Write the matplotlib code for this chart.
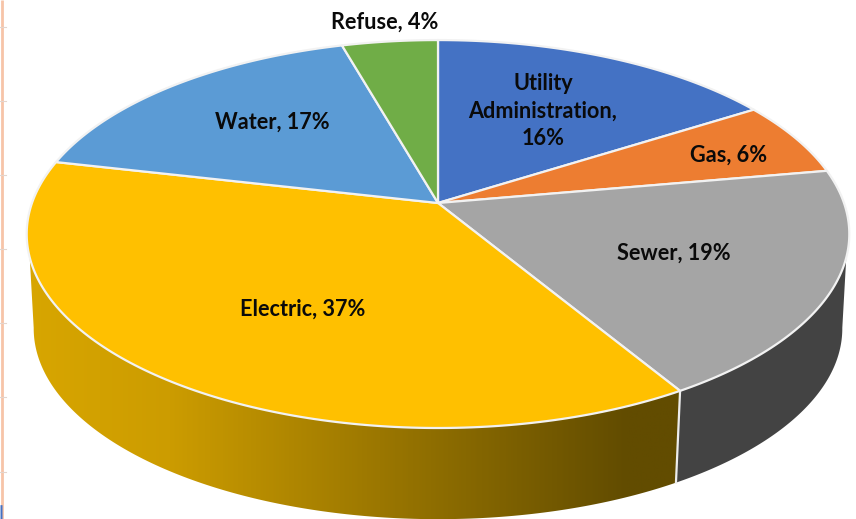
import numpy as np
import matplotlib
matplotlib.use('Agg')
import matplotlib.pyplot as plt
from matplotlib.colors import LinearSegmentedColormap
from matplotlib.patches import Polygon

# data, clockwise from 12 o'clock
names = ['Utility\nAdministration,', 'Gas,', 'Sewer,', 'Electric,', 'Water,', 'Refuse,']
values = [16.0, 6.2, 19.2, 37.2, 17.0, 4.4]

colors = ['#4472C4', '#ED7D31', '#A5A5A5', '#FFC000', '#5B9BD5', '#70AD47']
label_xy = [(543, 111), (729, 155), (674, 253), (303, 309), (272, 122), (385, 22)]

plt.rcParams['font.family'] = ['Lato', 'DejaVu Sans']


# tilted disc: circle seen in perspective, pixel coords
def project(deg, scale=1.0, cy=203.0):
    t = np.radians(deg)
    w = 1 + 0.16 * np.cos(t)
    return 438 + scale * 406 * np.sin(t) / w, cy - scale * 189 * np.cos(t) / w


def arc(a, b, scale=1.0, cy=203.0):
    return np.column_stack(project(np.linspace(a, b, 150), scale, cy))


fig = plt.figure(figsize=(8.56, 5.19), dpi=100)
ax = fig.add_axes([0, 0, 1, 1])
ax.set_xlim(0, 856)
ax.set_ylim(519, 0)
ax.axis('off')

# strip of the slide ruler at the left edge
ax.plot([2.5, 2.5], [0, 519], color='#F7C4A8', lw=2, solid_capstyle='butt')
ax.plot([0, 2], [513, 513], color='#4472C4', lw=12, solid_capstyle='butt', zorder=3)
for y in [27, 101, 175, 249, 323, 397, 472]:
    ax.plot([0, 6], [y, y], color='#E3D5CD', lw=0.8)

angles = np.concatenate([[0], np.cumsum(values) / np.sum(values) * 360])
sewer_end = angles[3]

# side walls, bottom rim is a slightly smaller copy shifted down
bs, by = 0.983, 298.0
right_wall = np.vstack([arc(106, sewer_end), arc(sewer_end, 99, bs, by)])
ax.add_patch(Polygon(right_wall, closed=True, fc='#434343', ec='none', zorder=1))

left_wall = np.vstack([arc(sewer_end, 254), arc(261, sewer_end, bs, by)])
clip = Polygon(left_wall, closed=True, fc='none', ec='none', transform=ax.transData)
ax.add_patch(clip)
wall_cmap = LinearSegmentedColormap.from_list(
    'wall', [(0, '#D8A600'), (0.22, '#CC9C00'), (0.62, '#8F6E00'), (0.92, '#624C00'), (1, '#624C00')])
grad = np.linspace(0, 1, 400).reshape(1, -1)
im = ax.imshow(grad, cmap=wall_cmap, extent=[25, 680, 519, 230], aspect='auto', zorder=1)
im.set_clip_path(clip)
ax.set_xlim(0, 856)
ax.set_ylim(519, 0)

# seam between the two walls
ax.plot(*zip(project(sewer_end), project(sewer_end, bs, by)), color='#EDEDED', lw=1.6, zorder=2)

# top faces
for i, c in enumerate(colors):
    pts = np.vstack([[438, 203], arc(angles[i], angles[i + 1])])
    ax.add_patch(Polygon(pts, closed=True, fc=c, ec='#F2F2F2', lw=1.6, joinstyle='round', zorder=3))

for name, v, (x, y) in zip(names, values, label_xy):
    if '\n' in name:
        txt = f'{name}\n{round(v)}%'
    else:
        txt = f'{name} {round(v)}%'
    ax.text(x, y, txt, ha='center', va='center', fontsize=15.6, fontweight='bold',
            color='#0A0A0A', linespacing=1.36, zorder=4)

fig.savefig('out.png', dpi=100)
